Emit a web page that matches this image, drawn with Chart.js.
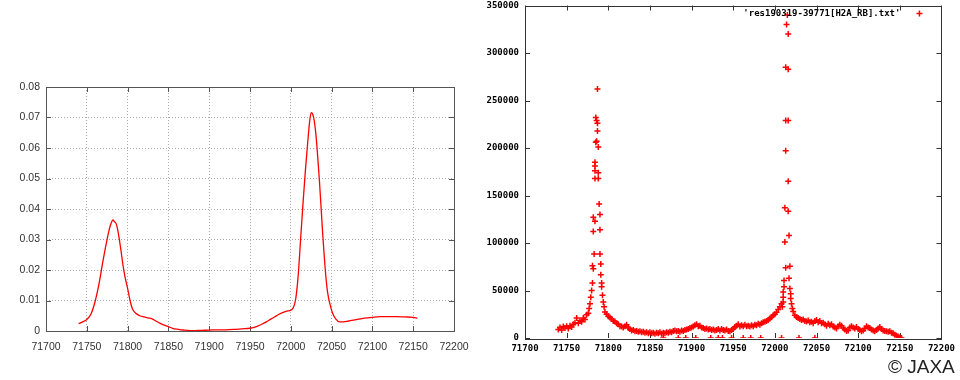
<!DOCTYPE html>
<html>
<head>
<meta charset="utf-8">
<script src="https://cdn.jsdelivr.net/npm/chart.js"></script>
<style>
  html, body { margin: 0; padding: 0; background: #fff; }
  #wrap { position: relative; width: 960px; height: 380px; overflow: hidden; }
  #left-chart { position: absolute; left: 0; top: 0; }
  #right-chart { position: absolute; left: 480px; top: 0; }
  .credit { position: absolute; left: 888px; top: 356px; font: 19px "Liberation Sans", Arial, sans-serif; color: #222; }
</style>
</head>
<body>
<div id="wrap">
  <canvas id="left-chart" width="480" height="380"></canvas>
  <canvas id="right-chart" width="480" height="380"></canvas>
  <div class="credit">© JAXA</div>
</div>
<script>
// left panel: normalised spectrum
const specX = [71740, 71745, 71750, 71755, 71760, 71765, 71770, 71775, 71778, 71780, 71782, 71784, 71786, 71788, 71790,
  71792, 71794, 71797, 71800, 71803, 71806, 71810, 71815, 71820, 71825, 71830, 71835, 71840, 71845, 71850, 71855, 71860,
  71865, 71870, 71880, 71890, 71900, 71910, 71920, 71930, 71940, 71950, 71955, 71960, 71965, 71970, 71975, 71980, 71985,
  71990, 71995, 72000, 72003, 72006, 72009, 72012, 72015, 72018, 72021, 72023, 72025, 72027, 72029, 72031, 72033, 72035,
  72037, 72039, 72041, 72043, 72045, 72048, 72051, 72055, 72060, 72065, 72070, 72080, 72090, 72100, 72110, 72120, 72130,
  72140, 72150, 72155];
const specY = [0.0024, 0.0030, 0.0038, 0.0055, 0.0095, 0.0155, 0.0232, 0.0302, 0.0338, 0.0355, 0.0364, 0.0358, 0.0352,
  0.0330, 0.0298, 0.0262, 0.0222, 0.0175, 0.0140, 0.0100, 0.0072, 0.0058, 0.0050, 0.0046, 0.0043, 0.0040, 0.0032, 0.0025,
  0.0019, 0.0014, 0.0009, 0.0006, 0.0004, 0.0003, 0.0001, 0.0002, 0.0003, 0.0004, 0.0004, 0.0005, 0.0007, 0.0009, 0.0012,
  0.0017, 0.0023, 0.0030, 0.0038, 0.0046, 0.0054, 0.0060, 0.0065, 0.0068, 0.0076, 0.0105, 0.0180, 0.0300, 0.0420, 0.0530,
  0.0627, 0.0685, 0.0716, 0.0710, 0.0685, 0.0638, 0.0570, 0.0495, 0.0410, 0.0322, 0.0245, 0.0178, 0.0128, 0.0088, 0.0060,
  0.0040, 0.0030, 0.0030, 0.0032, 0.0037, 0.0042, 0.0045, 0.0047, 0.0047, 0.0047, 0.0046, 0.0045, 0.0042];

// right panel: raw counts, baseline band
const baseX = [71740, 71742, 71744, 71746, 71748, 71750, 71752, 71754, 71756, 71758, 71760, 71762, 71764, 71766, 71768,
  71770, 71772, 71774, 71776,
  71798, 71800, 71802, 71804, 71806, 71808, 71810, 71812, 71814, 71816, 71818, 71820, 71822, 71824, 71826, 71828, 71830,
  71832, 71834, 71836, 71838, 71840, 71842, 71844, 71846, 71848, 71850, 71852, 71854, 71856, 71858, 71860, 71862, 71864,
  71866, 71868, 71870, 71872, 71874, 71876, 71878, 71880, 71882, 71884, 71886, 71888, 71890, 71892, 71894, 71896, 71898,
  71900, 71902, 71904, 71906, 71908, 71910, 71912, 71914, 71916, 71918, 71920, 71922, 71924, 71926, 71928, 71930, 71932,
  71934, 71936, 71938, 71940, 71942, 71944, 71946, 71948, 71950, 71952, 71954, 71956, 71958, 71960, 71962, 71964, 71966,
  71968, 71970, 71972, 71974, 71976, 71978, 71980, 71982, 71984, 71986, 71988, 71990, 71992, 71994, 71996, 71998, 72000,
  72002, 72004, 72006, 72008,
  72022, 72024, 72026, 72028, 72030, 72032, 72034, 72036, 72038, 72040, 72042, 72044, 72046, 72048, 72050, 72052, 72054,
  72056, 72058, 72060, 72062, 72064, 72066, 72068, 72070, 72072, 72074, 72076, 72078, 72080, 72082, 72084, 72086, 72088,
  72090, 72092, 72094, 72096, 72098, 72100, 72102, 72104, 72106, 72108, 72110, 72112, 72114, 72116, 72118, 72120, 72122,
  72124, 72126, 72128, 72130, 72132, 72134, 72136, 72138, 72140, 72142, 72144, 72146, 72148, 72150, 72152];
const baseY = [9000, 11000, 8500, 12000, 10500, 12500, 10000, 13000, 11500, 14500, 16000, 21000, 15500, 18500, 17000,
  21000, 19500, 24500, 26000,
  25000, 23000, 21500, 20000, 18000, 17500, 15500, 14500, 12500, 12000, 11000, 12500, 14000, 10500, 9500, 8000, 8500,
  7000, 7500, 6500, 7000, 6000, 6500, 5500, 6000, 5000, 6000, 5000, 5500, 4500, 5500, 5000, 6000, 4500,
  5500, 5000, 6000, 5500, 6500, 6000, 7500, 8000, 7000, 7500, 6500, 8000, 7500, 8500, 9000, 9500, 10500,
  11000, 12000, 13500, 14500, 12500, 13000, 11000, 10500, 9500, 10000, 9000, 9500, 8500, 9000, 8000, 8500, 9500,
  8000, 9500, 8500, 8000, 9000, 7500, 7000, 8500, 9500, 11500, 13000, 14500, 12000, 13500, 12500, 14000, 12500,
  13000, 12000, 13500, 12500, 14000, 13500, 15000, 14000, 15500, 16500, 17000, 18000, 19000, 20500, 22000, 24000, 25000,
  27000, 30000, 33000, 36000,
  28000, 24000, 22000, 21000, 20000, 19000, 19500, 18000, 17500, 18500, 16500, 17000, 15500, 18000, 19000, 16500, 18000,
  15500, 16000, 14500, 13000, 15000, 13500, 14500, 12000, 11000, 10000, 12500, 14000, 13000, 10500, 9000, 7500, 8000,
  11000, 12500, 11000, 10000, 11500, 9500, 8500, 7000, 8000, 10000, 12500, 11000, 10500, 9000, 8000, 7000, 8500,
  10000, 11500, 9500, 8000, 7500, 7000, 6500, 7000, 5500, 5000, 3500, 2500, 1500, 500, 0];

// right panel: the two peaks
const peakX = [71787, 71785, 71786, 71787, 71787, 71786, 71785, 71788, 71784, 71784, 71784, 71788, 71784, 71788, 71789,
  71790, 71782, 71784, 71790, 71782, 71783, 71790, 71791, 71781, 71782, 71791, 71781, 71792, 71792, 71780, 71793, 71779,
  71794, 71778, 71777, 71795, 71796,
  72015, 72014, 72016, 72013, 72016, 72013, 72016, 72013, 72016, 72012, 72016, 72017, 72012, 72013, 72018, 72011, 72017,
  72011, 72018, 72010, 72019, 72010, 72019, 72010, 72020, 72009, 72021];
const peakY = [262000, 232000, 229000, 226000, 218000, 207000, 206000, 201000, 185000, 181000, 176000, 174000, 168000,
  168000, 141000, 130000, 127000, 123000, 114000, 112000, 88500, 88500, 78000, 76000, 73000, 66500, 58000, 58000, 54000,
  50000, 45000, 43000, 38000, 36000, 31000, 33000, 27500,
  340000, 330000, 320000, 285000, 283000, 229000, 229000, 197000, 165000, 137000, 133500, 108000, 101000, 74000, 75500,
  60500, 63000, 54000, 52000, 48500, 46700, 43000, 41500, 38000, 36000, 33000, 31000];

// right panel: zero readings sitting on the axis
const zeroX = [71866, 71884, 71893, 71905, 71923, 71932, 71937, 71948, 71962, 71971, 71983, 72008, 72029, 72048];

const seriesLabel = "'res190319-39771[H2A_RB].txt'";

const toPoints = (xs, ys) => xs.map((x, i) => ({ x: x, y: ys[i] }));
const plain = v => String(v);

// gnuplot style frame with inward ticks on all four sides
const frameTicks = {
  id: 'frameTicks',
  beforeDatasetsDraw(chart, args, opts) {
    const { ctx, chartArea: a, scales: { x, y } } = chart;
    const len = 5;
    ctx.save();
    ctx.strokeStyle = opts.color || '#555';
    ctx.lineWidth = 1;
    ctx.beginPath();
    x.ticks.forEach(t => {
      const px = Math.round(x.getPixelForValue(t.value)) + 0.5;
      ctx.moveTo(px, a.bottom); ctx.lineTo(px, a.bottom - len);
      ctx.moveTo(px, a.top); ctx.lineTo(px, a.top + len);
    });
    y.ticks.forEach(t => {
      const py = Math.round(y.getPixelForValue(t.value)) + 0.5;
      ctx.moveTo(a.left, py); ctx.lineTo(a.left + len, py);
      ctx.moveTo(a.right, py); ctx.lineTo(a.right - len, py);
    });
    ctx.stroke();
    ctx.strokeRect(Math.round(a.left) + 0.5, Math.round(a.top) + 0.5, Math.round(a.width), Math.round(a.height));
    ctx.restore();
  }
};

// key in the top right corner, text first then the marker
const cornerKey = {
  id: 'cornerKey',
  afterDatasetsDraw(chart, args, opts) {
    if (!opts.show) return;
    const { ctx, chartArea: a } = chart;
    const ds = chart.data.datasets[0];
    ctx.save();
    ctx.font = 'bold 9px "DejaVu Sans Mono", monospace';
    ctx.fillStyle = '#000';
    ctx.textAlign = 'right';
    ctx.textBaseline = 'middle';
    ctx.fillText(ds.label, a.right - 41, a.top + 8);
    const cx = a.right - 22, cy = a.top + 8, r = 3;
    ctx.strokeStyle = ds.borderColor;
    ctx.lineWidth = 1.5;
    ctx.beginPath();
    ctx.moveTo(cx - r, cy); ctx.lineTo(cx + r, cy);
    ctx.moveTo(cx, cy - r); ctx.lineTo(cx, cy + r);
    ctx.stroke();
    ctx.restore();
  }
};

new Chart(document.getElementById('left-chart'), {
  type: 'line',
  data: {
    datasets: [{
      label: 'spectrum',
      data: toPoints(specX, specY),
      borderColor: '#ff0000',
      borderWidth: 1.3,
      pointRadius: 0,
      cubicInterpolationMode: 'monotone',
      fill: false
    }]
  },
  options: {
    responsive: false,
    animation: false,
    layout: { padding: { top: 87, right: 26, bottom: 19, left: 0 } },
    scales: {
      x: {
        type: 'linear',
        min: 71700,
        max: 72200,
        afterFit: s => { s.height = 30; },
        ticks: { stepSize: 50, callback: plain, maxRotation: 0, autoSkip: false, padding: 10,
          color: '#333', font: { family: '"Liberation Sans", Arial, sans-serif', size: 10.5 } },
        grid: { color: '#aaa', drawTicks: false },
        border: { display: false, dash: [1, 2] }
      },
      y: {
        min: 0,
        max: 0.08,
        afterFit: s => { s.width = 46; },
        ticks: { stepSize: 0.01, padding: 6,
          color: '#333', font: { family: '"Liberation Sans", Arial, sans-serif', size: 10.5 } },
        grid: { color: '#aaa', drawTicks: false },
        border: { display: false, dash: [1, 2] }
      }
    },
    plugins: {
      legend: { display: false },
      tooltip: { enabled: false },
      frameTicks: { color: '#555' }
    }
  },
  plugins: [frameTicks]
});

new Chart(document.getElementById('right-chart'), {
  type: 'scatter',
  data: {
    datasets: [{
      label: seriesLabel,
      data: toPoints(baseX, baseY).concat(toPoints(peakX, peakY), zeroX.map(x => ({ x: x, y: 0 }))),
      borderColor: '#ff0000',
      backgroundColor: '#ff0000',
      pointStyle: 'cross',
      pointRadius: 3,
      borderWidth: 1.5
    }]
  },
  options: {
    responsive: false,
    animation: false,
    layout: { padding: { top: 0, right: 16, bottom: 20, left: 0 } },
    scales: {
      x: {
        type: 'linear',
        min: 71700,
        max: 72200,
        afterFit: s => { s.height = 22; },
        ticks: { stepSize: 50, callback: plain, maxRotation: 0, autoSkip: false, padding: 5,
          color: '#000', font: { family: '"DejaVu Sans Mono", monospace', size: 9, weight: 'bold' } },
        grid: { display: false, drawTicks: false },
        border: { display: false }
      },
      y: {
        min: 0,
        max: 350000,
        afterFit: s => { s.width = 45; s.paddingTop = 3; s.paddingBottom = 0; },
        ticks: { stepSize: 50000, callback: plain, padding: 6,
          color: '#000', font: { family: '"DejaVu Sans Mono", monospace', size: 9, weight: 'bold' } },
        grid: { display: false, drawTicks: false },
        border: { display: false }
      }
    },
    plugins: {
      legend: { display: false },
      tooltip: { enabled: false },
      frameTicks: { color: '#333' },
      cornerKey: { show: true }
    }
  },
  plugins: [frameTicks, cornerKey]
});
</script>
</body>
</html>
